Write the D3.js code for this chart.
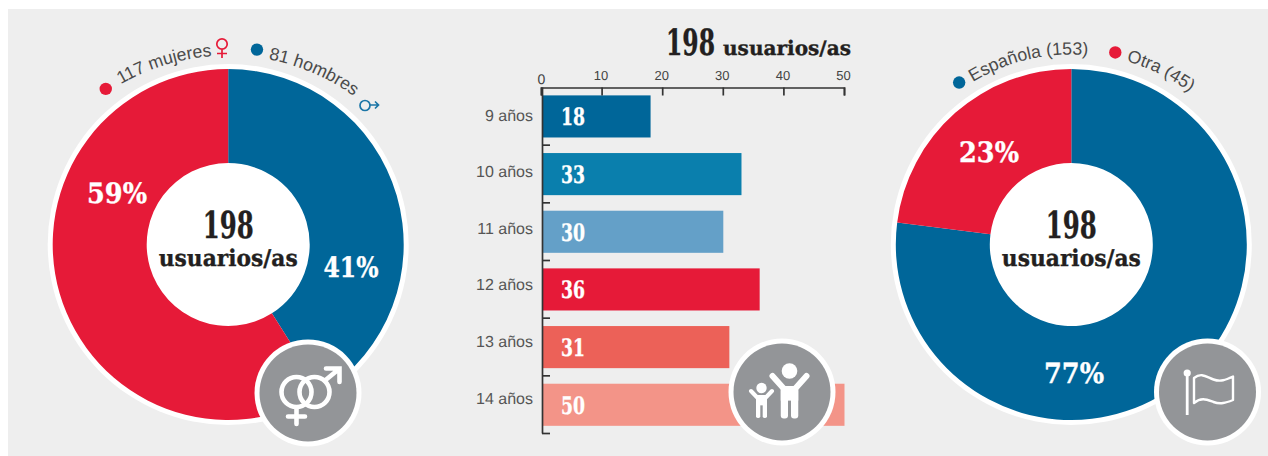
<!DOCTYPE html>
<html><head><meta charset="utf-8">
<script src="https://cdn.jsdelivr.net/npm/d3@7/dist/d3.min.js"></script>
<style>html,body{margin:0;padding:0;background:#fff}svg{display:block}text{text-rendering:geometricPrecision}</style>
</head><body><svg id="c" width="1268" height="456"></svg>
<script>
const ageCategories = ["9 años","10 años","11 años","12 años","13 años","14 años"];
const ageValues = [18,33,30,36,31,50];
const ageColors = ["#006699","#0a7fad","#64a0c8","#e61a38","#ec6158","#f39488"];
const axisTicks = [0,10,20,30,40,50];
const genderLabels = ["81 hombres","117 mujeres"];
const genderValues = [41,59];
const genderColors = ["#006699","#e61a38"];
const nationLabels = ["Española (153)","Otra (45)"];
const nationValues = [77,23];
const nationColors = ["#006699","#e61a38"];
const totalNumber = "198";
const totalWord = "usuarios/as";

const SLAB = "'DejaVu Serif',serif", SANS = "'Liberation Sans',Arial,sans-serif";
const GREY = "#939598", INK = "#231f20";
const svg = d3.select("#c");
svg.append("rect").attr("x",8).attr("y",9).attr("width",1260).attr("height",447).attr("fill","#eeeeee");

function slab(g,x,y,str,size,width,fill,anchor){
  const t=g.append("text").text(str)
    .attr("font-family",SLAB).attr("font-weight",700).attr("font-size",size)
    .attr("text-anchor",anchor||"middle").attr("fill",fill)
    .attr("stroke",fill).attr("stroke-width",0.35);
  const natural=t.node().getComputedTextLength();
  t.attr("transform",`translate(${x},${y}) scale(${width/natural},1)`);
  return t;
}
function badge(cx,cy){
  const g=svg.append("g").attr("transform",`translate(${cx},${cy})`);
  g.append("circle").attr("r",53.5).attr("fill","#fff");
  g.append("circle").attr("r",48.5).attr("fill",GREY);
  return g.append("g");
}
let pathId=0;
function curved(cx,cy,r,a0,a1,str){
  const id="tp"+(pathId++), rad=d=>(d-90)*Math.PI/180, p=d3.path();
  p.arc(cx,cy,r,rad(a0),rad(a1));
  svg.append("path").attr("id",id).attr("d",p.toString()).attr("fill","none");
  const t=svg.append("text").attr("font-family",SANS).attr("font-size",17.7).attr("fill","#4a4a4a");
  t.append("textPath").attr("href","#"+id).text(str);
}
function dot(cx,cy,r,a,color){
  const rad=a*Math.PI/180;
  svg.append("circle").attr("cx",cx+r*Math.sin(rad)).attr("cy",cy-r*Math.cos(rad)).attr("r",6.2).attr("fill",color);
}
function donut(cx,cy,values,colors){
  const g=svg.append("g").attr("transform",`translate(${cx},${cy})`);
  g.append("circle").attr("r",180.5).attr("fill","#fff");
  const arc=d3.arc().innerRadius(81.5).outerRadius(175.5);
  g.selectAll("path").data(d3.pie().sort(null)(values)).join("path").attr("d",arc).attr("fill",(d,i)=>colors[i]);
  slab(g,0,-7,totalNumber,37,51,INK);
  slab(g,0,21.5,totalWord,23,139,INK);
}

// left donut
const L={x:228.2,y:244.5}, R={x:1071.3,y:244.5};
donut(L.x,L.y,genderValues,genderColors);
slab(svg,351,277,"41%",28,55,"#fff");
slab(svg,117,203,"59%",28,60,"#fff");
curved(L.x,L.y+26,215,-30,-2,genderLabels[1]);
curved(L.x,L.y+26,215,10.8,40,genderLabels[0]);
dot(L.x,L.y,198,-38.2,genderColors[1]);
dot(L.x,L.y,197,8.4,genderColors[0]);
// small gender marks
const fm=svg.append("g").attr("fill","none").attr("stroke","#e61a38").attr("stroke-width",1.7);
fm.append("circle").attr("cx",222).attr("cy",44).attr("r",5.2);
fm.append("path").attr("d","M222 49.5V58M217 53.5H227");
const mm=svg.append("g").attr("fill","none").attr("stroke","#1b75a6").attr("stroke-width",1.7);
mm.append("circle").attr("cx",365).attr("cy",105.5).attr("r",5);
mm.append("path").attr("d","M370 105H378.5M375 101.5L378.5 105L375 108.5");
// gender badge
const b1=badge(308,393).attr("fill","none").attr("stroke","#fff").attr("stroke-width",4.6).attr("stroke-linecap","round");
b1.append("circle").attr("cx",-11.5).attr("cy",-1).attr("r",15);
b1.append("circle").attr("cx",6.5).attr("cy",-1).attr("r",15);
b1.append("path").attr("d","M-11.5 14.5V31M-20 23.5H-3");
b1.append("path").attr("d","M17 -12.5L31 -24M18 -24.5H31.5V-11");

// bars
const bars=svg.append("g");
const x=d3.scaleLinear().domain([0,50]).range([541,844]);
const y=d3.scaleBand().domain(ageCategories).range([87.6,433.6]).paddingInner(0.27).paddingOuter(0.135);
const labelY=d3.scalePoint().domain(ageCategories).range([115,398]);
const rowY=d3.scaleLinear().domain([0,6]).range([87,433]);
bars.selectAll("rect").data(ageValues).join("rect")
  .attr("x",x(0)+1).attr("y",(d,i)=>y(ageCategories[i])).attr("height",y.bandwidth())
  .attr("width",d=>x(d)-x(0)-0.5).attr("fill",(d,i)=>ageColors[i]);
ageValues.forEach((d,i)=>slab(bars,561,y(ageCategories[i])+y.bandwidth()/2+9,String(d),24,24,"#fff","start"));
bars.selectAll("text.c").data(ageCategories).join("text").attr("class","c")
  .attr("x",533).attr("y",d=>labelY(d)+5.5).attr("text-anchor","end")
  .attr("font-family",SANS).attr("font-size",16).attr("fill","#555").text(d=>d);
const ax=svg.append("g").attr("transform","translate(0,87.5)")
  .call(d3.axisTop(x).tickValues(axisTicks).tickSizeInner(-8).tickSizeOuter(-8).tickPadding(8));
ax.selectAll("text").attr("font-family",SANS).attr("font-size",13).attr("fill","#444").attr("dx",-1);
ax.selectAll("text").filter(d=>d===0).attr("font-size",14).attr("dx",0).attr("dy",4);
const ay=svg.append("g").attr("transform","translate(542,0)")
  .call(d3.axisRight(rowY).tickValues([1,2,3,4,5,6]).tickFormat("").tickSizeInner(8).tickSizeOuter(0));
[ax,ay].forEach(g=>{g.selectAll("path,line").attr("stroke","#333").attr("stroke-width",1.7);});
slab(svg,666,55,totalNumber,36,49,INK,"start");
slab(svg,723,55,totalWord,20,128,INK,"start");
// children badge
const b2=badge(782,392).attr("fill","#fff");
const kid=(g,hx,hy,hr,armW,armX,armY,jy,bw,bt,bb,gap)=>{
  g.append("circle").attr("cx",hx).attr("cy",hy).attr("r",hr);
  g.append("path").attr("fill","none").attr("stroke","#fff").attr("stroke-width",armW).attr("stroke-linejoin","round").attr("stroke-linecap","round")
   .attr("d",`M${hx-armX} ${armY}L${hx} ${jy}L${hx+armX} ${armY}`);
  const w=(bw-gap)/2;
  g.append("rect").attr("x",hx-bw/2).attr("y",bt).attr("width",bw).attr("height",(bb-bt)*.45);
  g.append("rect").attr("x",hx-bw/2).attr("y",bt+2).attr("width",w).attr("height",bb-bt-2).attr("rx",w/2.4);
  g.append("rect").attr("x",hx+gap/2).attr("y",bt+2).attr("width",w).attr("height",bb-bt-2).attr("rx",w/2.4);
};
kid(b2,7.5,-21,7.8,6,17,-16,3,17.5,-6,26.5,3);
kid(b2,-20.5,-4,5.2,4,10.5,-1,10,11,3,26,2.4);

// right donut
donut(R.x,R.y,nationValues,nationColors);
slab(svg,1074,383,"77%",28,60,"#fff");
slab(svg,989,162,"23%",28,60,"#fff");
curved(R.x,R.y,190,-31.2,6,nationLabels[0]);
curved(R.x,R.y+10,201,15.9,42,nationLabels[1]);
dot(R.x,R.y,197,-34.7,nationColors[0]);
dot(R.x,R.y,197,12.9,nationColors[1]);
// flag badge
const b3=badge(1207.5,392);
const fl=b3.append("g").attr("fill","none").attr("stroke","#fff").attr("stroke-width",2.4).attr("stroke-linejoin","round");
b3.append("circle").attr("cx",-20.3).attr("cy",-19).attr("r",3.6).attr("fill","#fff");
fl.append("path").attr("stroke-width",2.8).attr("d","M-20.3 -19V23");
fl.append("path").attr("d","M-13.5 -14C-6 -20 -1 -15 6 -12.5C13 -10 18 -12 25.5 -15.5V8C18 11 13 12.5 6 10C-1 7.5 -6 5 -13.5 11Z");
</script></body></html>
